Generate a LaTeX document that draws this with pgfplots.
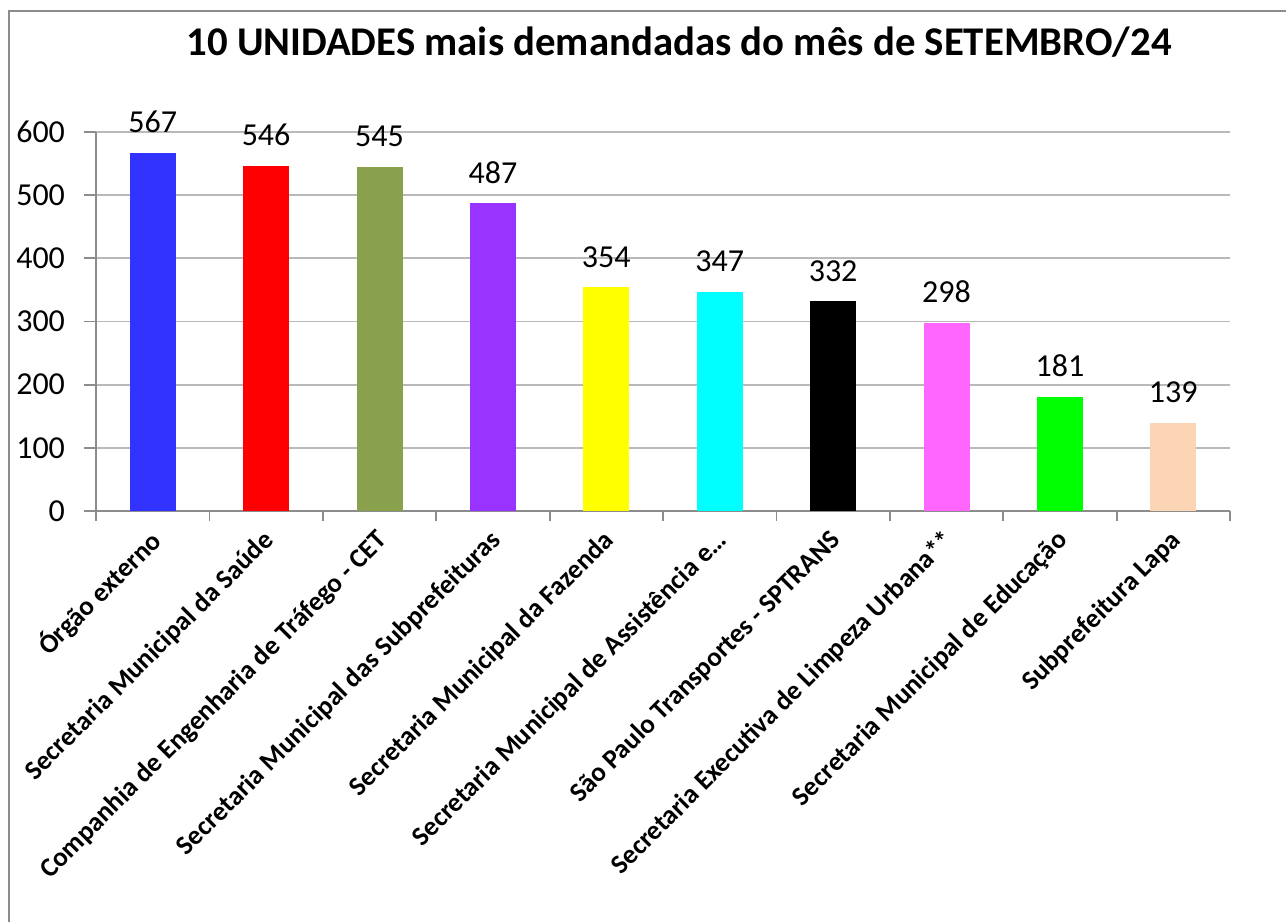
\documentclass[border=0pt]{standalone}
\usepackage{fontspec}
\setmainfont{Carlito}
\usepackage{pgfplots}
\pgfplotsset{compat=1.18}
\definecolor{c1}{RGB}{51,51,255}
\definecolor{c2}{RGB}{255,0,0}
\definecolor{c3}{RGB}{137,160,76}
\definecolor{c4}{RGB}{153,51,255}
\definecolor{c5}{RGB}{255,255,0}
\definecolor{c6}{RGB}{0,255,255}
\definecolor{c7}{RGB}{0,0,0}
\definecolor{c8}{RGB}{255,102,255}
\definecolor{c9}{RGB}{0,255,0}
\definecolor{c10}{RGB}{252,213,180}
\definecolor{gridc}{RGB}{185,185,185}
\definecolor{axc}{RGB}{140,140,140}
\begin{document}
\begin{tikzpicture}[x=0.5pt,y=0.5pt]
\useasboundingbox (0,0) rectangle (1286,922);
\draw[axc, line width=1.2pt] (9,0) -- (9,911) -- (1286,911);
\node[anchor=base, font=\bfseries\fontsize{20.4}{24}\selectfont] at (679,866) {10 UNIDADES mais demandadas do mês de SETEMBRO/24};
\coordinate (A) at (96,411);
\begin{axis}[
  at={(A)}, anchor=south west,
  scale only axis, width=567pt, height=189.5pt,
  xmin=-0.5, xmax=9.5, ymin=0, ymax=600,
  ybar, bar width=23pt,
  axis x line*=bottom, axis y line*=left,
  axis line style={-, axc, line width=0.9pt},
  ytick={0,100,200,300,400,500,600},
  ymajorgrids, grid style={gridc, line width=0.9pt},
  tick align=outside,
  major tick length=6pt,
  y tick style={axc, line width=0.9pt},
  xtick={0,1,2,3,4,5,6,7,8,9},
  major x tick style={draw=none},
  minor xtick={-0.5,0.5,1.5,2.5,3.5,4.5,5.5,6.5,7.5,8.5,9.5},
  minor x tick style={draw=axc, line width=0.9pt}, minor tick length=5pt,
  /pgf/number format/assume math mode=true,
  yticklabel style={font=\fontsize{16}{19}\selectfont, xshift=-6pt},
  xticklabels={{Órgão externo}, {Secretaria Municipal da Saúde}, {Companhia de Engenharia de Tráfego - CET}, {Secretaria Municipal das Subprefeituras}, {Secretaria Municipal da Fazenda}, {Secretaria Municipal de Assistência e\ldots}, {São Paulo Transportes - SPTRANS}, {Secretaria Executiva de Limpeza Urbana**}, {Secretaria Municipal de Educação}, {Subprefeitura Lapa}},
  xticklabel style={rotate=45, anchor=east, font=\bfseries\fontsize{13.5}{16}\selectfont, yshift=-6pt},
  nodes near coords,
  every node near coord/.append style={font=\fontsize{16}{19}\selectfont, black, yshift=6.5pt},
  bar shift=0pt,
]
\addplot[fill=c1, draw=none] coordinates {(0,567)};
\addplot[fill=c2, draw=none] coordinates {(1,546)};
\addplot[fill=c3, draw=none] coordinates {(2,545)};
\addplot[fill=c4, draw=none] coordinates {(3,487)};
\addplot[fill=c5, draw=none] coordinates {(4,354)};
\addplot[fill=c6, draw=none] coordinates {(5,347)};
\addplot[fill=c7, draw=none] coordinates {(6,332)};
\addplot[fill=c8, draw=none] coordinates {(7,298)};
\addplot[fill=c9, draw=none] coordinates {(8,181)};
\addplot[fill=c10, draw=none] coordinates {(9,139)};
\end{axis}
\end{tikzpicture}
\end{document}
